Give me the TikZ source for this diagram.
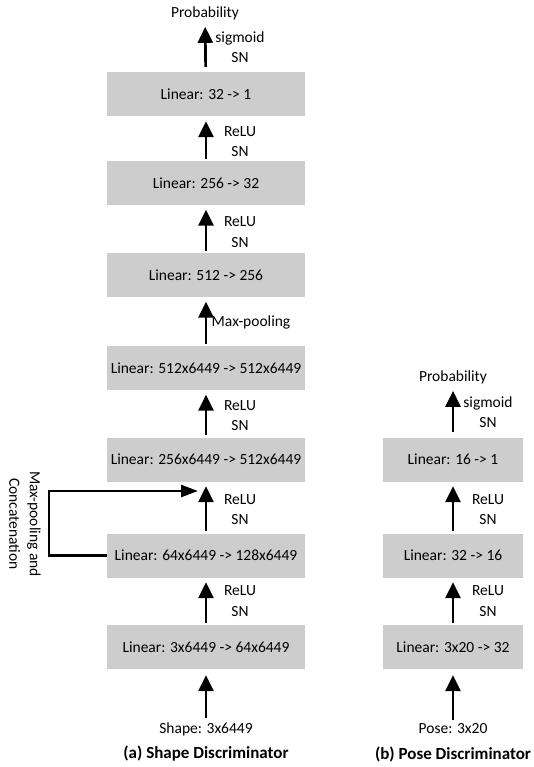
\documentclass[tikz,border=0pt]{standalone}
\usepackage{fontspec}
\setmainfont{Carlito}
\usetikzlibrary{arrows.meta,calc}
\definecolor{boxgray}{RGB}{205,205,205}
\begin{document}
\begin{tikzpicture}[x=1pt,y=-1pt,
  layer/.style={fill=boxgray, minimum height=44pt, inner sep=0pt, font=\fontsize{15.5}{20.5}\selectfont},
  shapebox/.style={layer, minimum width=198pt},
  posebox/.style={layer, minimum width=140pt},
  lbl/.style={align=center, inner sep=0pt, font=\fontsize{15.5}{20.5}\selectfont},
  flow/.style={line width=2.7pt, -{Triangle[width=15pt,length=16pt]}},
  skipline/.style={line width=2.6pt, -{Triangle[width=12pt,length=17pt]}},
  captiontext/.style={inner sep=0pt, font=\bfseries\fontsize{17}{20}\selectfont},
]
\useasboundingbox (0,0) rectangle (534,767);

% ---------- Shape discriminator ----------
\node[shapebox] (b1) at (206,94.5) {Linear: 32 -> 1};
\node[shapebox] (b2) at (206,183) {Linear: 256 -> 32};
\node[shapebox] (b3) at (206,275) {Linear: 512 -> 256};
\node[shapebox] (b4) at (206,368) {Linear: 512x6449 -> 512x6449};
\node[shapebox] (b5) at (206,459.5) {Linear: 256x6449 -> 512x6449};
\node[shapebox] (b6) at (206,555.5) {Linear: 64x6449 -> 128x6449};
\node[shapebox] (b7) at (206,647) {Linear: 3x6449 -> 64x6449};

\node[lbl] (p1) at (205,13) {Probability};
\node[lbl] (in1) at (206,729) {Shape: 3x6449};
\node[captiontext] (ca) at (206,754) {(a) Shape Discriminator};

\draw[flow, shorten <=5.5pt, shorten >=7pt] (b1) -- (p1);
\draw[flow, shorten <=2pt, shorten >=4.5pt] (b2) -- (b1);
\draw[flow, shorten <=2pt, shorten >=4.5pt] (b3) -- (b2);
\draw[flow, shorten <=2pt, shorten >=4.5pt] (b4) -- (b3);
\draw[flow, shorten <=2pt, shorten >=4.5pt] (b5) -- (b4);
\draw[flow, shorten <=2pt, shorten >=4.5pt] (b6) -- (b5);
\draw[flow, shorten <=2pt, shorten >=4.5pt] (b7) -- (b6);
\draw[flow, shorten <=4pt, shorten >=6pt] (in1) -- (b7);

\node[lbl] at ($(b1.north)+(34,-25)$) {sigmoid\\SN};
\node[lbl] at ($(b1.south)!0.5!(b2.north)+(34,3)$) {ReLU\\SN};
\node[lbl] at ($(b2.south)!0.5!(b3.north)+(34,3)$) {ReLU\\SN};
\node[lbl] at ($(b3.south)!0.5!(b4.north)+(45,0.5)$) {Max-pooling};
\node[lbl] at ($(b4.south)!0.5!(b5.north)+(34,2)$) {ReLU\\SN};
\node[lbl] at ($(b5.south)!0.5!(b6.north)+(34,2)$) {ReLU\\SN};
\node[lbl] at ($(b6.south)!0.5!(b7.north)+(34,0)$) {ReLU\\SN};

% skip connection
\coordinate (cc) at (49,491);
\coordinate (ct) at (198,491);
\draw[skipline] (b6.west) -| (cc) -- (ct);
\node[lbl, rotate=-90] (mpc) at (25,524) {Max-pooling and\\Concatenation};

% ---------- Pose discriminator ----------
\node[posebox] (r1) at (453,459.5) {Linear: 16 -> 1};
\node[posebox] (r2) at (453,555.5) {Linear: 32 -> 16};
\node[posebox] (r3) at (453,647) {Linear: 3x20 -> 32};

\node[lbl] (p2) at (453,377) {Probability};
\node[lbl] (in2) at (453,729) {Pose: 3x20};
\node[captiontext] (cb) at (453,754) {(b) Pose Discriminator};

\draw[flow, shorten <=5.5pt, shorten >=7pt] (r1) -- (p2);
\draw[flow, shorten <=2pt, shorten >=4.5pt] (r2) -- (r1);
\draw[flow, shorten <=2pt, shorten >=4.5pt] (r3) -- (r2);
\draw[flow, shorten <=4pt, shorten >=6pt] (in2) -- (r3);

\node[lbl] at ($(r1.north)+(35,-25)$) {sigmoid\\SN};
\node[lbl] at ($(r1.south)!0.5!(r2.north)+(35,2)$) {ReLU\\SN};
\node[lbl] at ($(r2.south)!0.5!(r3.north)+(35,0)$) {ReLU\\SN};
\end{tikzpicture}
\end{document}
